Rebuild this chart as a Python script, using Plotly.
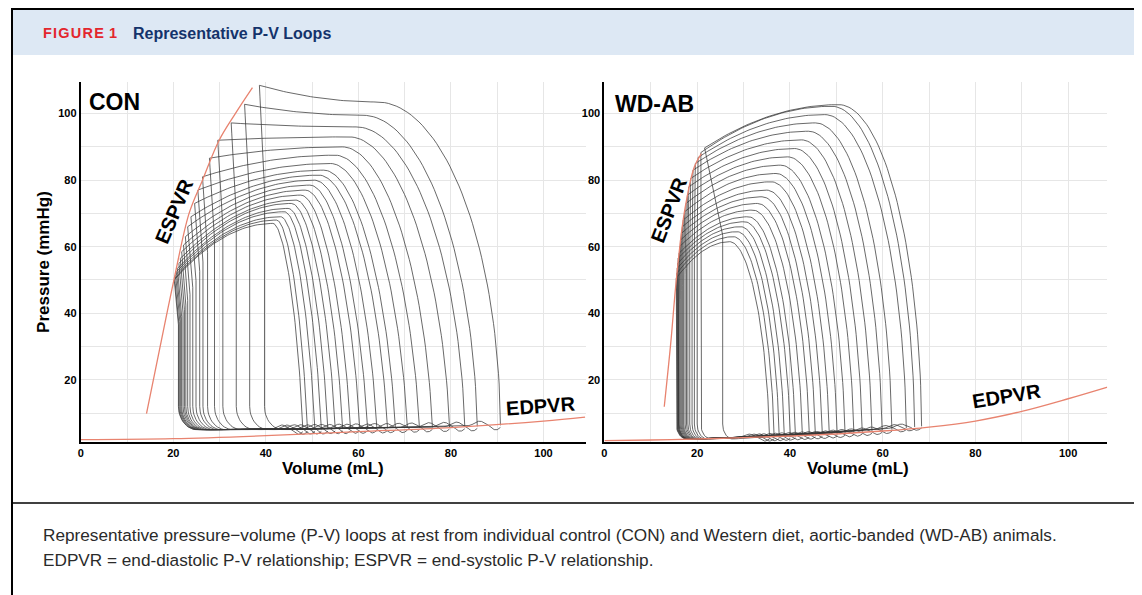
import numpy as np
import plotly.graph_objects as go

# page body has an 8px margin: the figure is sized and placed to compensate
OFF = 8
W, H = 1142 - OFF, 595 - OFF


def PX(px):
    return (px - OFF) / W


def PY(py):
    return 1 - (py - OFF) / H


# ---------------- data ----------------
x_ticks = [0, 20, 40, 60, 80, 100]
y_ticks = [20, 40, 60, 80, 100]

# CON loops, largest -> smallest (volume mL, pressure mmHg)
con_esv = [38.6, 35.4, 32.5, 29.6, 27.8, 26.3, 25.3, 24.6, 23.8, 23.1, 22.6, 22.2, 21.8, 21.5, 21.2, 20.9, 20.7, 20.5, 20.3, 20.2]
con_pes = [108.5, 102.8, 97.2, 92.0, 86.6, 81.0, 77.0, 73.0, 69.0, 66.0, 63.0, 60.5, 58.5, 56.5, 55.0, 53.5, 52.5, 51.5, 50.5, 50.0]
con_vlb = [39.7, 36.5, 33.6, 30.7, 28.9, 27.4, 26.4, 25.7, 24.9, 24.2, 23.6, 23.1, 22.7, 22.4, 22.1, 21.8, 21.6, 21.4, 21.2, 21.1]
con_edv = [90.7, 85.7, 83.0, 79.7, 76.0, 73.2, 70.6, 68.0, 66.3, 64.0, 62.0, 60.3, 58.3, 56.6, 55.0, 53.4, 52.0, 50.6, 49.0, 48.0]
con_vk = [64.0, 61.0, 59.5, 58.0, 56.5, 55.0, 54.0, 52.5, 51.5, 50.5, 49.5, 48.5, 47.5, 46.5, 45.5, 44.8, 44.0, 43.2, 42.3, 41.5]
con_pk = [103.5, 99.5, 96.0, 93.0, 90.0, 87.5, 85.0, 83.0, 81.5, 80.0, 78.5, 77.0, 75.5, 74.0, 73.0, 71.5, 70.5, 69.0, 68.0, 67.0]
con_ped = [6.3, 6.0, 5.9, 5.8, 5.7, 5.6, 5.5, 5.5, 5.4, 5.4, 5.3, 5.3, 5.2, 5.2, 5.2, 5.1, 5.1, 5.1, 5.0, 5.0]
con_lean = [0.5, 1.5, 2.0, 2.5, 2.8, 3.0, 3.0, 3.0, 3.0, 3.0, 3.0, 2.8, 2.8, 2.6, 2.5, 2.4, 2.3, 2.2, 2.1, 2.0]
con_pbl = 5.0

# WD-AB loops, largest -> smallest
wd_esv = [21.6, 20.8, 20.2, 19.6, 19.1, 18.6, 18.2, 17.9, 17.6, 17.3, 17.0, 16.8, 16.6, 16.4, 16.2, 16.1, 15.9, 15.8, 15.7, 15.6, 15.5]
wd_pes = [89.7, 88.3, 86.8, 85.0, 83.0, 80.5, 78.0, 75.5, 73.0, 70.5, 68.0, 66.0, 64.0, 62.0, 60.0, 58.0, 56.5, 55.0, 53.5, 52.0, 50.5]
wd_vlb = [25.5, 20.8, 20.0, 19.4, 18.9, 18.4, 18.0, 17.7, 17.4, 17.1, 16.9, 16.7, 16.5, 16.3, 16.1, 16.0, 15.9, 15.8, 15.7, 15.6, 15.5]
wd_edv = [68.4, 66.9, 65.1, 62.0, 59.9, 57.7, 55.6, 53.8, 51.9, 50.2, 48.5, 47.0, 45.5, 44.2, 42.7, 41.2, 40.1, 38.8, 37.7, 36.6, 35.6]
wd_vk = [50.5, 49.0, 47.5, 45.5, 44.0, 42.5, 41.0, 39.5, 38.0, 37.0, 36.0, 35.0, 34.0, 33.0, 32.0, 31.0, 30.2, 29.4, 28.6, 27.8, 27.0]
wd_pk = [102.7, 102.2, 99.7, 97.2, 94.7, 92.1, 89.5, 87.0, 84.5, 82.0, 79.5, 77.0, 75.0, 73.0, 71.0, 69.0, 67.5, 66.0, 64.5, 63.0, 61.5]
wd_ped = [6.0, 5.8, 5.5, 5.0, 4.7, 4.4, 4.2, 4.0, 3.8, 3.6, 3.5, 3.4, 3.3, 3.2, 3.1, 3.0, 2.9, 2.8, 2.8, 2.7, 2.7]
wd_lean = [0.5, 0.8, 1.0, 1.2, 1.4, 1.5, 1.5, 1.5, 1.5, 1.5, 1.5, 1.5, 1.4, 1.4, 1.3, 1.3, 1.2, 1.2, 1.1, 1.0, 1.0]
wd_pbl = 2.2

# end-systolic / end-diastolic P-V relationships
con_espvr_v = [14.2, 17.0, 20.2, 23.4, 26.3, 29.9, 33.4, 37.1]
con_espvr_p = [9.8, 29.0, 50.5, 70.0, 80.0, 92.0, 100.0, 107.8]
con_edpvr_v = [0, 20, 40, 60, 80, 100, 109]
con_edpvr_p = [2.0, 2.3, 3.2, 4.4, 5.6, 7.6, 8.8]

wd_espvr_v = [12.9, 14.3, 15.5, 17.2, 19.4, 20.9]
wd_espvr_p = [11.9, 31.0, 50.0, 70.0, 84.0, 88.0]
wd_edpvr_v = [0, 10, 20, 30, 40, 50, 60, 70, 80, 90, 100, 108.5]
wd_edpvr_p = [1.7, 1.9, 2.2, 2.6, 3.1, 3.7, 4.6, 5.8, 7.6, 10.5, 14.3, 17.8]


# ---------------- loop geometry from the key points ----------------
def loop_path(esv, pes, vlb, edv, vk, pk, ped, lean, pbl, rv, rp, wave):
    V, P = [], []
    # isovolumic contraction + start of ejection (sheared quarter ellipse)
    th = np.linspace(0, np.pi / 2, 50)
    a, b = edv - vk - lean, pk - ped
    V += list(vk + a * np.cos(th) + lean * (1 - np.sin(th)))
    P += list(ped + b * np.sin(th))
    # ejection towards end-systole
    t = np.linspace(1, 0, 40)[1:]
    V += list(esv + t * (vk - esv))
    P += list(pes + (pk - pes) * (1 - (1 - t) ** 2))
    # isovolumic relaxation
    pmid = pes - 0.3 * (pes - pbl)
    s = np.linspace(0, 1, 10)[1:]
    V += list(esv + s * (vlb - esv))
    P += list(pes + s * (pmid - pes))
    V.append(vlb)
    P.append(pbl + rp)
    ph = np.linspace(np.pi, 1.5 * np.pi, 14)[1:]
    V += list(vlb + rv + rv * np.cos(ph))
    P += list(pbl + rp + rp * np.sin(ph))
    # filling
    x0 = vlb + rv
    u = np.linspace(0, 1, 70)[1:]
    vb = x0 + u * (edv - x0)
    pb = pbl + (ped - pbl) * u
    pb = pb + wave * (np.exp(-((vb - (edv - 4.5)) / 1.5) ** 2)
                      - np.exp(-((vb - (edv - 1.0)) / 1.1) ** 2))
    V += list(vb)
    P += list(pb)
    return V, P


fig = go.Figure()
LOOP_LINE = dict(color="rgba(55,55,55,0.75)", width=1.0)
RED_LINE = dict(color="#e8836f", width=1.3, shape="spline")

panels = [
    ("x", "y", con_esv, con_pes, con_vlb, con_edv, con_vk, con_pk, con_ped, con_lean, con_pbl, 4.0, 7.0, 1.4),
    ("x2", "y2", wd_esv, wd_pes, wd_vlb, wd_edv, wd_vk, wd_pk, wd_ped, wd_lean, wd_pbl, 2.2, 4.5, 1.1),
]
rel = [
    (con_espvr_v, con_espvr_p, con_edpvr_v, con_edpvr_p),
    (wd_espvr_v, wd_espvr_p, wd_edpvr_v, wd_edpvr_p),
]
for (xa, ya, esv, pes, vlb, edv, vk, pk, ped, lean, pbl, rv, rp, wave), (sv, sp, dv, dp) in zip(panels, rel):
    for i in range(len(esv)):
        V, P = loop_path(esv[i], pes[i], vlb[i], edv[i], vk[i], pk[i], ped[i], lean[i], pbl, rv, rp, wave)
        fig.add_trace(go.Scatter(x=V, y=P, mode="lines", line=LOOP_LINE, xaxis=xa, yaxis=ya,
                                 hoverinfo="skip", showlegend=False))
    fig.add_trace(go.Scatter(x=sv, y=sp, mode="lines", line=RED_LINE, xaxis=xa, yaxis=ya,
                             hoverinfo="skip", showlegend=False))
    fig.add_trace(go.Scatter(x=dv, y=dp, mode="lines", line=RED_LINE, xaxis=xa, yaxis=ya,
                             hoverinfo="skip", showlegend=False))

FONT = "Liberation Sans, Arial, sans-serif"
tickfont = dict(family=FONT, size=11, color="black", weight="bold")
GRID = "#e6e6e6"


def xax(dom, rng):
    return dict(domain=dom, range=rng, tick0=0, dtick=20, showgrid=True, gridcolor=GRID, gridwidth=1,
                minor=dict(dtick=10, showgrid=True, gridcolor=GRID, gridwidth=1),
                showline=True, linecolor="black", linewidth=2, zeroline=False, ticks="",
                tickfont=tickfont, fixedrange=True)


def yax(dom, rng, anchor):
    return dict(domain=dom, range=rng, tick0=0, dtick=20, showgrid=True, gridcolor=GRID, gridwidth=1,
                minor=dict(dtick=10, showgrid=True, gridcolor=GRID, gridwidth=1),
                showline=True, linecolor="black", linewidth=2, zeroline=False, ticks="",
                tickfont=tickfont, anchor=anchor, fixedrange=True)


ydom = [PY(442), PY(82)]
fig.update_layout(
    width=W, height=H, margin=dict(l=0, r=0, t=0, b=0),
    paper_bgcolor="white", plot_bgcolor="white",
    xaxis=dict(xax([PX(78), PX(585)], [0, 109.3]), anchor="y"),
    yaxis=yax(ydom, [1.3, 109.5], "x"),
    xaxis2=dict(xax([PX(603), PX(1107)], [0, 108.4]), anchor="y2"),
    yaxis2=yax(ydom, [1.3, 109.5], "x2"),
)

shapes = [
    dict(type="rect", xref="paper", yref="paper", x0=PX(9), x1=PX(1135), y0=PY(55), y1=PY(9),
         fillcolor="#dde8f4", line=dict(width=0), layer="below"),
    dict(type="rect", xref="paper", yref="paper", x0=PX(9), x1=PX(1135), y0=-0.05, y1=PY(9),
         fillcolor="rgba(0,0,0,0)", line=dict(color="black", width=2)),
    dict(type="line", xref="paper", yref="paper", x0=PX(9), x1=PX(1135), y0=PY(503), y1=PY(503),
         line=dict(color="black", width=1.5)),
]
fig.update_layout(shapes=shapes)

ann = []
# header
ann.append(dict(xref="paper", yref="paper", x=PX(38), y=PY(33), xanchor="left", yanchor="middle",
                text="<b>F\u200aI\u200aG\u200aU\u200aR\u200aE\u200a 1</b>", showarrow=False,
                font=dict(family=FONT, size=14.5, color="#e3262d")))
ann.append(dict(xref="paper", yref="paper", x=PX(128), y=PY(33), xanchor="left", yanchor="middle",
                text="<b>Representative P-V Loops</b>", showarrow=False,
                font=dict(family=FONT, size=16, color="#14336b")))
# caption
cap_font = dict(family=FONT, size=17.2, color="#2a2a2a")
ann.append(dict(xref="paper", yref="paper", x=PX(38), y=PY(535), xanchor="left", yanchor="middle",
                text="Representative pressure\u2212volume (P-V) loops at rest from individual control (CON) and Western diet, aortic-banded (WD-AB) animals.",
                showarrow=False, font=cap_font))
ann.append(dict(xref="paper", yref="paper", x=PX(38), y=PY(560), xanchor="left", yanchor="middle",
                text="EDPVR = end-diastolic P-V relationship; ESPVR = end-systolic P-V relationship.",
                showarrow=False, font=cap_font))
# axis titles
tfont = dict(family=FONT, size=17, color="black")
ann.append(dict(xref="paper", yref="paper", x=PX(331), y=PY(468), xanchor="center", yanchor="middle",
                text="<b>Volume (mL)</b>", showarrow=False, font=tfont))
ann.append(dict(xref="paper", yref="paper", x=PX(857), y=PY(468), xanchor="center", yanchor="middle",
                text="<b>Volume (mL)</b>", showarrow=False, font=tfont))
ann.append(dict(xref="paper", yref="paper", x=PX(40), y=PY(262), xanchor="center", yanchor="middle",
                text="<b>Pressure (mmHg)</b>", textangle=-90, showarrow=False, font=tfont))
# panel labels
pfont = dict(family=FONT, size=23, color="black")
ann.append(dict(xref="x", yref="y", x=1.4, y=103.5, xanchor="left", yanchor="middle",
                text="<b>CON</b>", showarrow=False, font=pfont))
ann.append(dict(xref="x2", yref="y2", x=1.8, y=103.0, xanchor="left", yanchor="middle",
                text="<b>WD-AB</b>", showarrow=False, font=pfont))
# relation labels
lfont = dict(family=FONT, size=20, color="black")
ann.append(dict(xref="x", yref="y", x=20.2, y=70.7, text="<b>ESPVR</b>", textangle=-67,
                showarrow=False, font=lfont))
ann.append(dict(xref="x2", yref="y2", x=13.9, y=71.0, text="<b>ESPVR</b>", textangle=-69,
                showarrow=False, font=lfont))
ann.append(dict(xref="x", yref="y", x=99.4, y=12.2, text="<b>EDPVR</b>", textangle=-4,
                showarrow=False, font=lfont))
ann.append(dict(xref="x2", yref="y2", x=86.8, y=15.0, text="<b>EDPVR</b>", textangle=-9,
                showarrow=False, font=lfont))
fig.update_layout(annotations=ann)

fig.write_html("out.html")
